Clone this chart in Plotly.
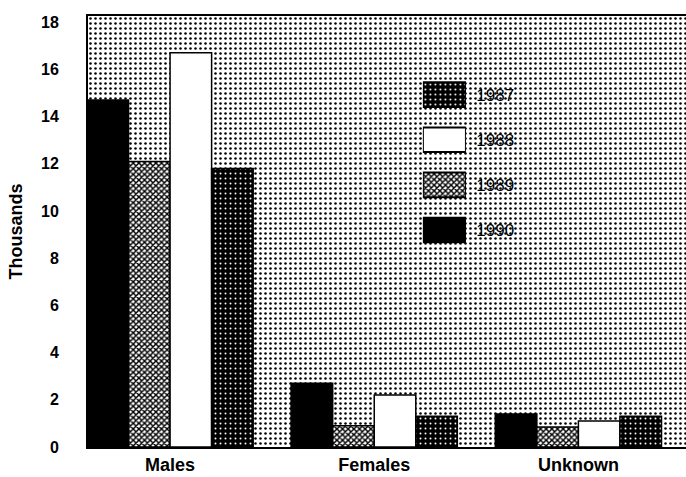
import plotly.graph_objects as go

# Cases (thousands) by sex and year
categories = ["Males", "Females", "Unknown"]
years = ["1987", "1988", "1989", "1990"]
cases_1990 = [14.7, 2.7, 1.4]
cases_1989 = [12.1, 0.9, 0.85]
cases_1988 = [16.7, 2.2, 1.1]
cases_1987 = [11.8, 1.3, 1.3]
y_ticks = [0, 2, 4, 6, 8, 10, 12, 14, 16, 18]

series = {
    "1990": cases_1990,
    "1989": cases_1989,
    "1988": cases_1988,
    "1987": cases_1987,
}

Y_TOP = 18.26
FONT = "Liberation Sans, Arial, sans-serif"

# fill style for each year: (solid colour, pattern shape, pattern bg, pattern fg, size, solidity)
styles = {
    "1987": ("black", ".", "black", "white", 5, 0.12),
    "1988": ("white", "", "white", "white", 8, 0.3),
    "1989": ("white", "x", "white", "black", 4, 0.6),
    "1990": ("black", "", "black", "black", 8, 0.3),
}


def pattern(year):
    col, shape, bg, fg, size, sol = styles[year]
    return dict(shape=shape, bgcolor=bg, fgcolor=fg, size=size, solidity=sol,
                fillmode="replace")


fig = go.Figure()

# stippled plot background
fig.add_trace(go.Bar(
    x=[0.5], y=[Y_TOP], width=[1], xaxis="x", yaxis="y",
    marker=dict(color="white", line=dict(width=0),
                pattern=dict(shape=".", bgcolor="white", fgcolor="black",
                             size=5, solidity=0.2, fillmode="replace")),
    showlegend=False, hoverinfo="skip",
))

# grouped bars
for year, vals in series.items():
    fig.add_trace(go.Bar(
        x=categories, y=vals, name=year, xaxis="x2", yaxis="y",
        marker=dict(color=styles[year][0], pattern=pattern(year),
                    line=dict(color="black", width=1.5)),
        showlegend=False,
    ))

# key boxes drawn as a small horizontal bar chart, one trace per year
for year in years:
    fig.add_trace(go.Bar(
        y=[year], x=[1], width=[0.545], orientation="h",
        xaxis="x3", yaxis="y3", offsetgroup="key",
        marker=dict(color=styles[year][0], pattern=pattern(year),
                    line=dict(color="black", width=2)),
        showlegend=False, hoverinfo="skip",
    ))

fig.update_layout(
    width=686, height=477,
    margin=dict(l=88, r=0, t=16, b=30),
    paper_bgcolor="white",
    plot_bgcolor="rgba(0,0,0,0)",
    barmode="group",
    bargap=0.186,
    bargroupgap=0,
    showlegend=False,
    xaxis=dict(range=[0, 1], visible=False, domain=[0, 1]),
    xaxis2=dict(
        overlaying="x", anchor="y", type="category",
        range=[-0.402, 2.527],
        showline=True, linecolor="black", linewidth=2, mirror=True,
        ticks="", showgrid=False,
        tickfont=dict(family=FONT, size=18, color="black", weight="bold"),
    ),
    yaxis=dict(
        range=[0, Y_TOP], tickvals=y_ticks,
        showline=True, linecolor="black", linewidth=2,
        showgrid=False, zeroline=False, ticks="",
        ticklabelstandoff=24,
        tickfont=dict(family=FONT, size=16, color="black", weight="bold"),
        title=dict(text="Thousands", standoff=14,
                   font=dict(family=FONT, size=18, color="black",
                             weight="bold")),
    ),
    xaxis3=dict(domain=[0.560, 0.632], range=[0, 1], visible=False,
                anchor="y3"),
    yaxis3=dict(
        domain=[0.451, 0.870], anchor="x3", type="category",
        categoryorder="array", categoryarray=years,
        autorange="reversed", side="right",
        showline=False, showgrid=False, zeroline=False,
        ticks="outside", ticklen=6, tickcolor="rgba(0,0,0,0)",
        tickfont=dict(family=FONT, size=17, color="black"),
    ),
)

fig.write_html("out.html")
